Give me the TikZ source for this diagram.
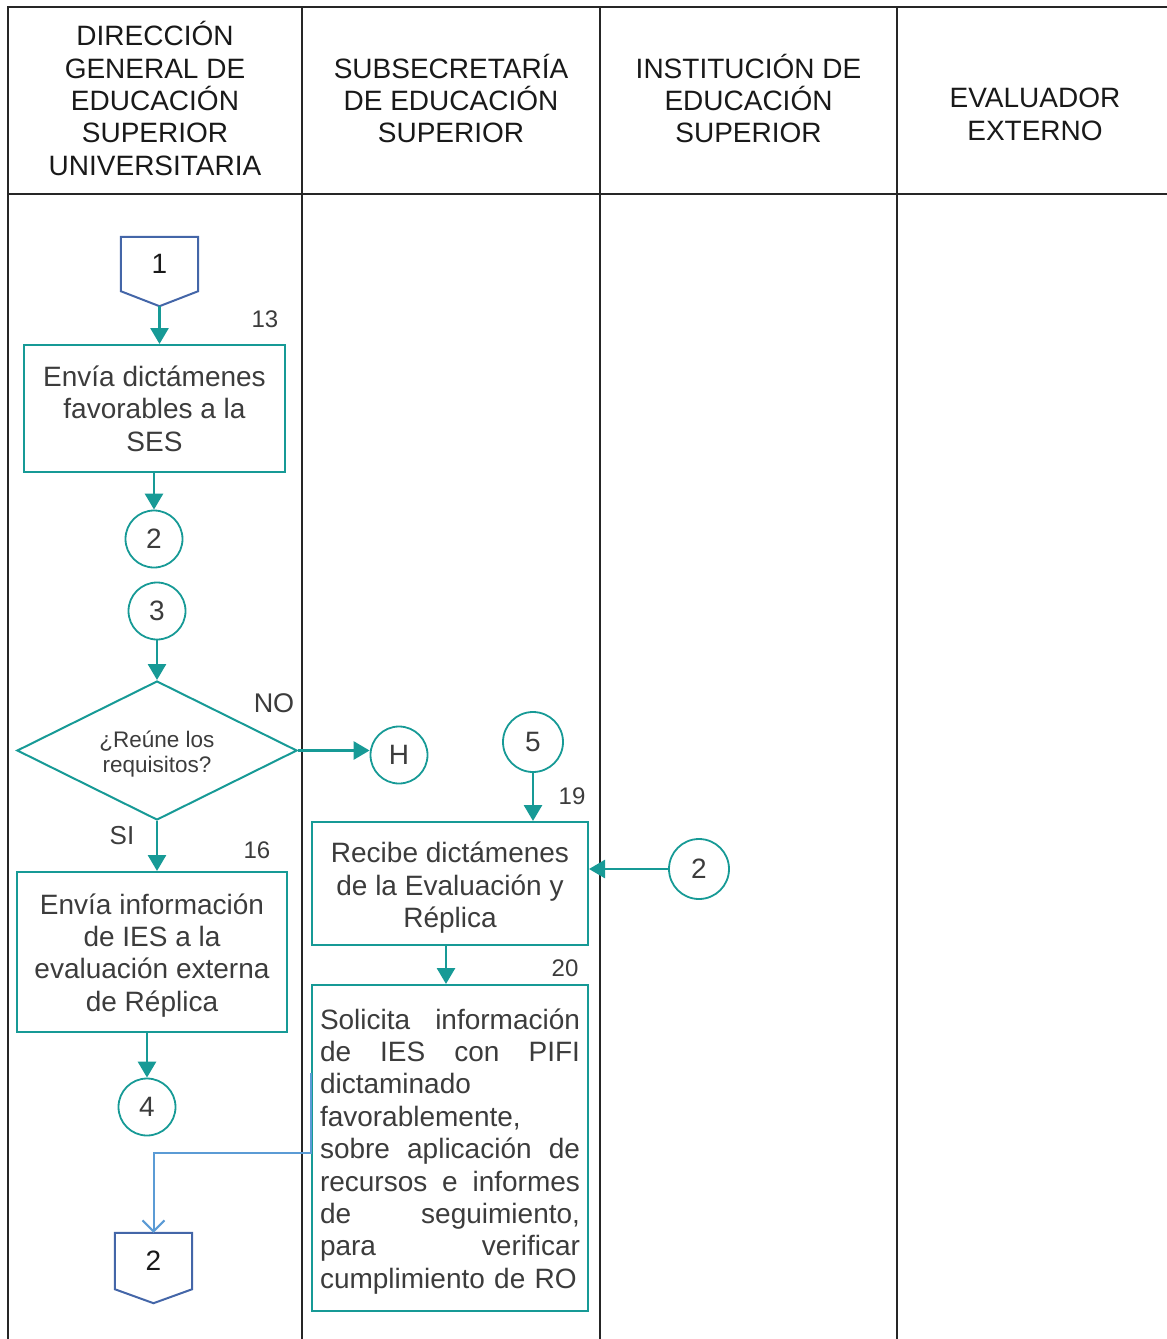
\documentclass[tikz,border=0pt]{standalone}
\usepackage{fontspec}
\setmainfont{Liberation Sans}
\usetikzlibrary{arrows.meta,shapes.geometric}
\definecolor{tealc}{HTML}{179A96}
\definecolor{bluec}{HTML}{4466A8}
\definecolor{lblue}{HTML}{5B9BD5}
\definecolor{txt}{HTML}{3C3C3C}
\newcommand{\jline}[1]{\makebox[260pt][l]{#1}}
\begin{document}
\begin{tikzpicture}[x=1pt,y=-1pt,
 grid/.style={line width=2pt,black!85},
 hdr/.style={align=center,font=\fontsize{28}{32.4}\selectfont,text=black!90,inner sep=0pt},
 proc/.style={draw=tealc,line width=2pt,align=center,font=\fontsize{28}{32.4}\selectfont,text=txt,inner sep=0pt},
 conn/.style={circle,draw=tealc,line width=1.8pt,minimum size=57pt,inner sep=0pt,font=\fontsize{28}{32}\selectfont,text=txt},
 offp/.style={minimum width=77pt,inner sep=0pt,font=\fontsize{28}{32}\selectfont,text=black!90},
 offshape/.style={draw=bluec,line width=2pt,line join=miter},
 flow/.style={draw=tealc,line width=2.8pt,-{Triangle[width=18pt,length=16pt]}},
 num/.style={font=\fontsize{24}{28}\selectfont,text=txt,inner sep=0pt},
 dec/.style={diamond,aspect=2,draw=tealc,line width=2pt,minimum width=280pt,minimum height=139pt,inner sep=0pt,align=center,font=\fontsize{22.5}{25}\selectfont,text=txt},
]
\useasboundingbox (0,0) rectangle (1167,1339);
% table grid
\draw[grid] (8,1339) -- (8,7) -- (1170,7);
\draw[grid] (8,194) -- (1170,194);
\draw[grid] (302,7) -- (302,1339);
\draw[grid] (600,7) -- (600,1339);
\draw[grid] (897,7) -- (897,1339);
% headers
\node[hdr] (h1) at (155,98.5) {DIRECCIÓN\\GENERAL DE\\EDUCACIÓN\\SUPERIOR\\UNIVERSITARIA};
\node[hdr] (h2) at (451,98.5) {SUBSECRETARÍA\\DE EDUCACIÓN\\SUPERIOR};
\node[hdr] (h3) at (748.5,98.5) {INSTITUCIÓN DE\\EDUCACIÓN\\SUPERIOR};
\node[hdr] (h4) at (1035,114.5) {EVALUADOR\\EXTERNO};
% off-page connector 1
\node[offp,minimum height=54pt] (o1) at (159.5,264) {1};
\draw[offshape] (o1.north west) -- (o1.north east) -- (o1.south east) -- ([yshift=-15pt]o1.south) -- (o1.south west) -- cycle;
\coordinate (o1tip) at ([yshift=-15pt]o1.south);
% process 1
\node[proc,minimum width=261pt,minimum height=127pt] (b1) at (154.5,408.5) {Envía dictámenes\\favorables a la\\SES};
\node[num] (n13) at (265,319) {13};
\draw[flow] (o1tip) -- (o1tip |- b1.north);
% connectors 2, 3
\node[conn] (c2) at (154,539) {2};
\draw[flow] (b1.south -| c2) -- (c2.north);
\node[conn] (c3) at (157,611) {3};
% decision
\node[dec] (d) at (157,750.5) {\rule{0pt}{23pt}¿Reúne los\\requisitos?};
\draw[flow] (c3.south) -- (d.north);
\node[conn] (cH) at (399,755) {H};
\node[num,font=\fontsize{27}{30}\selectfont] (lno) at (274,703) {NO};
\draw[flow] (d.east) -- (d.east -| cH.west);
\node[num,font=\fontsize{26}{30}\selectfont] (lsi) at (122,836) {SI};
% process 2
\node[proc,minimum width=270pt,minimum height=160pt] (b2) at (152,952) {\rule{0pt}{27pt}Envía información\\de IES a la\\evaluación externa\\de Réplica};
\node[num] (n16) at (257,850) {16};
\draw[flow] (d.south) -- (d.south |- b2.north);
\node[conn] (c4) at (147,1107) {4};
\draw[flow] (c4.north |- b2.south) -- (c4.north);
% off-page connector 2
\node[offp,minimum height=56pt] (o2) at (153.5,1261) {2};
\draw[offshape] (o2.north west) -- (o2.north east) -- (o2.south east) -- ([yshift=-14pt]o2.south) -- (o2.south west) -- cycle;
% SES column
\node[conn,minimum size=60pt] (c5) at (533,742) {5};
\node[proc,minimum width=276pt,minimum height=123pt] (b3) at (450,883.5) {\rule{0pt}{29pt}Recibe dictámenes\\de la Evaluación y\\Réplica};
\node[num] (n19) at (572,796) {19};
\draw[flow] (c5.south) -- (c5.south |- b3.north);
\node[conn,minimum size=60pt] (c2b) at (699,869) {2};
\draw[flow] (c2b.west) -- (c2b.west -| b3.east);
\node[proc,minimum width=276pt,minimum height=326pt,text width=260pt,align=left] (b4) at (450,1148) {\jline{\rule{0pt}{27pt}Solicita\hfill información}\\\jline{de\hfill IES\hfill con\hfill PIFI}\\dictaminado\\favorablemente,\\\jline{sobre\hfill aplicación\hfill de}\\\jline{recursos\hfill e\hfill informes}\\\jline{de\hfill seguimiento,}\\\jline{para\hfill verificar}\\cumplimiento de RO};
\node[num] (n20) at (565,968) {20};
\draw[flow] ([xshift=-4pt]b3.south) -- ([xshift=-4pt]b4.north);
% blue link
\coordinate (s) at (311,1073);
\draw[lblue,line width=2pt,-{Straight Barb[length=11pt,width=22pt,line width=2pt]}] (s) -- (311,1153) -| (o2.north);
\end{tikzpicture}
\end{document}
